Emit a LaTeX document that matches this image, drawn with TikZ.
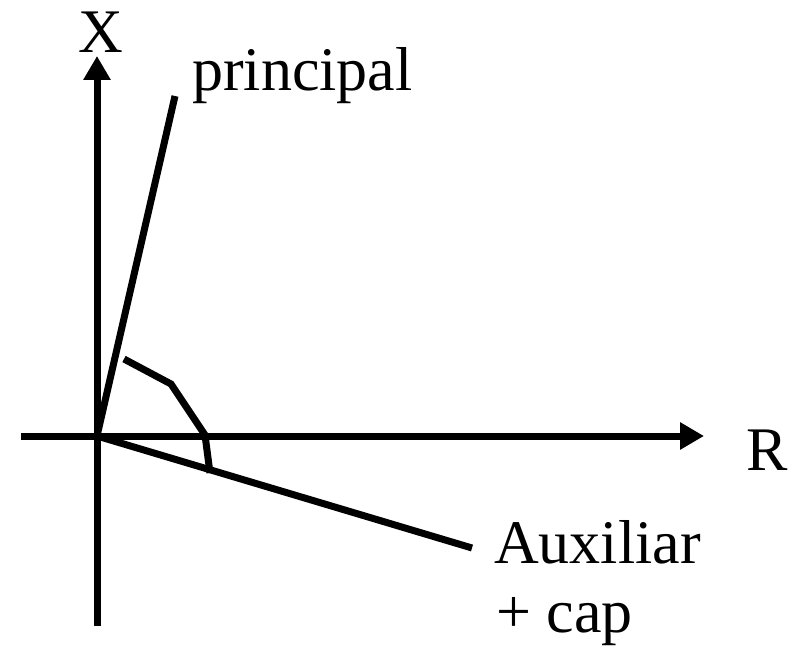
\documentclass[tikz,border=0pt]{standalone}
\usepackage{fontspec}
\setmainfont{Liberation Serif}
\usetikzlibrary{arrows.meta}
\begin{document}
\begin{tikzpicture}[x=1pt,y=-1pt,
  thick line/.style={line width=7pt},
  axis/.style={thick line,-{Triangle[length=24pt,width=26pt]}},
  lbl/.style={inner sep=0pt,font=\fontsize{62}{70}\selectfont}]
\useasboundingbox (0,0) rectangle (800,652);
\coordinate (O) at (97,436);
\coordinate (Xbot) at (97,626);
\coordinate (Xtip) at (97,56);
\coordinate (Rleft) at (21,436);
\coordinate (Rtip) at (704,436);
\coordinate (P) at (175,96);
\coordinate (A) at (472,548);
\coordinate (c1) at (124,359);
\coordinate (c2) at (171,384);
\coordinate (c3) at (205,435);
\coordinate (c4) at (210,473);
\draw[axis] (Xbot) -- (Xtip);
\draw[axis] (Rleft) -- (Rtip);
\draw[thick line] (O) -- (P);
\draw[thick line] (O) -- (A);
\draw[thick line,line join=miter] (c1) -- (c2) -- (c3) -- (c4);
\node[lbl,anchor=base] (xl) at (101,53) {X};
\node[lbl,anchor=base west] (rl) at (746,470) {R};
\node[lbl,anchor=base west] (pl) at (192,91) {principal};
\node[lbl,anchor=base west] (al) at (494,563) {Auxiliar};
\node[lbl,anchor=base west] (cl) at (496,632) {+ cap};
\end{tikzpicture}
\end{document}
